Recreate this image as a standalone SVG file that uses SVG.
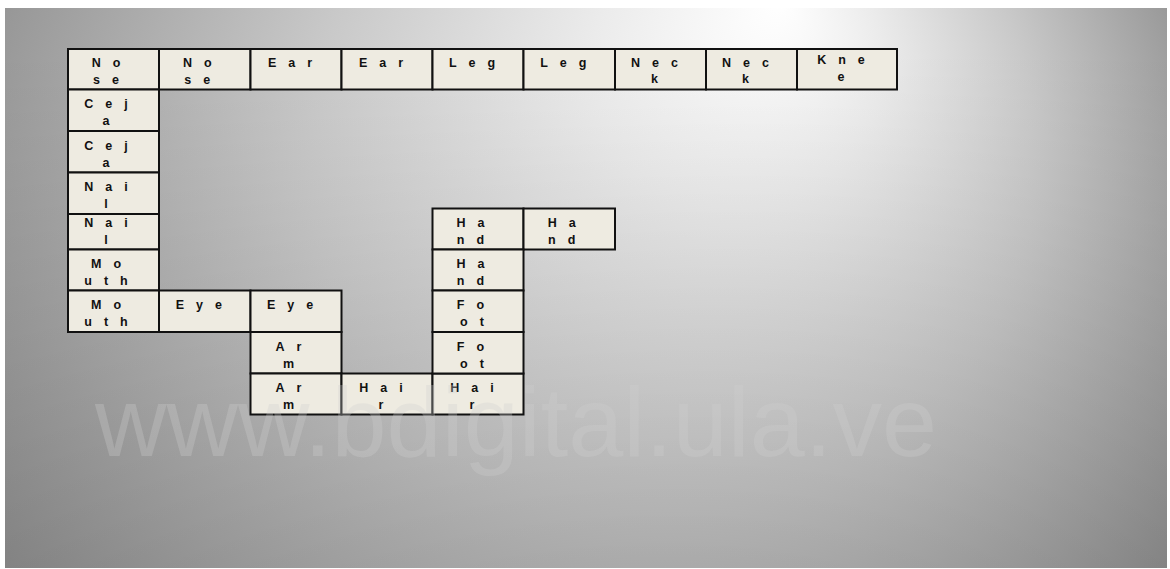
<svg xmlns="http://www.w3.org/2000/svg" width="1170" height="569" viewBox="0 0 1170 569">
<defs>
<radialGradient id="bg" gradientUnits="userSpaceOnUse" cx="585" cy="284" r="660" fx="780" fy="0">
<stop offset="0" stop-color="#ffffff"/>
<stop offset="0.22" stop-color="#ebebeb"/>
<stop offset="0.55" stop-color="#c9c9c9"/>
<stop offset="1" stop-color="#949494"/>
</radialGradient>
<linearGradient id="shade" gradientUnits="userSpaceOnUse" x1="0" y1="50" x2="0" y2="568">
<stop offset="0" stop-color="#000" stop-opacity="0"/>
<stop offset="1" stop-color="#000" stop-opacity="0.13"/>
</linearGradient>
<style>
.b{fill:#eeebe1;stroke:#111;stroke-width:2}
.t{font-family:"Liberation Sans",Arial,sans-serif;font-weight:bold;font-size:12.5px;fill:#111;letter-spacing:12px;text-anchor:middle}
.wm{font-family:"Liberation Sans",Arial,sans-serif;font-size:99px;fill:#d0d0d0;opacity:0.3}
</style>
</defs>
<rect x="0" y="0" width="1170" height="569" fill="#ffffff"/>
<rect x="5" y="8" width="1162" height="560" fill="url(#bg)"/>
<rect x="5" y="8" width="1162" height="560" fill="url(#shade)"/>

<g id="nose1"><rect class="b" x="68" y="49" width="91" height="40.5"/><text class="t" x="112" y="67">No</text><text class="t" x="112" y="84">se</text></g>
<g id="nose2"><rect class="b" x="159" y="49" width="91.5" height="40.5"/><text class="t" x="203.25" y="67">No</text><text class="t" x="203.25" y="84">se</text></g>
<g id="ear1"><rect class="b" x="250.5" y="49" width="91" height="40.5"/><text class="t" x="296" y="67">Ear</text></g>
<g id="ear2"><rect class="b" x="341.5" y="49" width="91" height="40.5"/><text class="t" x="387" y="67">Ear</text></g>
<g id="leg1"><rect class="b" x="432.5" y="49" width="91" height="40.5"/><text class="t" x="478" y="67">Leg</text></g>
<g id="leg2"><rect class="b" x="523.5" y="49" width="91.5" height="40.5"/><text class="t" x="569.25" y="67">Leg</text></g>
<g id="neck1"><rect class="b" x="615" y="49" width="91" height="40.5"/><text class="t" x="660.5" y="67">Nec</text><text class="t" x="660.5" y="83">k</text></g>
<g id="neck2"><rect class="b" x="706" y="49" width="91" height="40.5"/><text class="t" x="751.5" y="67">Nec</text><text class="t" x="751.5" y="83">k</text></g>
<g id="knee"><rect class="b" x="797" y="49" width="100" height="40.5"/><text class="t" x="847" y="64">Kne</text><text class="t" x="847" y="81">e</text></g>

<g id="ceja1"><rect class="b" x="68" y="89.5" width="91" height="41.5"/><text class="t" x="112" y="108">Cej</text><text class="t" x="112" y="125">a</text></g>
<g id="ceja2"><rect class="b" x="68" y="131" width="91" height="41.5"/><text class="t" x="112" y="149.5">Cej</text><text class="t" x="112" y="166.5">a</text></g>
<g id="nail2"><rect class="b" x="68" y="208.5" width="91" height="41"/><text class="t" x="112" y="226.5">Nai</text><text class="t" x="112" y="243.5">l</text></g>
<g id="nail1"><rect class="b" x="68" y="172.5" width="91" height="41.5"/><text class="t" x="112" y="191">Nai</text><text class="t" x="112" y="208">l</text></g>
<g id="mouth1"><rect class="b" x="68" y="249.5" width="91" height="41"/><text class="t" x="112" y="267.5">Mo</text><text class="t" x="112" y="284.5">uth</text></g>
<g id="mouth2"><rect class="b" x="68" y="290.5" width="91" height="41.5"/><text class="t" x="112" y="308.5">Mo</text><text class="t" x="112" y="325.5">uth</text></g>
<g id="eye1"><rect class="b" x="159" y="290.5" width="91.5" height="41.5"/><text class="t" x="204.75" y="308.5">Eye</text></g>
<g id="eye2"><rect class="b" x="250.5" y="290.5" width="91" height="41.5"/><text class="t" x="296" y="308.5">Eye</text></g>
<g id="arm1"><rect class="b" x="250.5" y="332" width="91" height="41.5"/><text class="t" x="294.5" y="350.5">Ar</text><text class="t" x="294.5" y="367.5">m</text></g>
<g id="arm2"><rect class="b" x="250.5" y="373.5" width="91" height="41"/><text class="t" x="294.5" y="391.5">Ar</text><text class="t" x="294.5" y="408.5">m</text></g>
<g id="hair1"><rect class="b" x="341.5" y="373.5" width="91" height="41"/><text class="t" x="387" y="391.5">Hai</text><text class="t" x="387" y="408.5">r</text></g>
<g id="hair2"><rect class="b" x="432.5" y="373.5" width="91" height="41"/><text class="t" x="478" y="391.5">Hai</text><text class="t" x="478" y="408.5">r</text></g>
<g id="hand1"><rect class="b" x="432.5" y="208.5" width="91" height="41"/><text class="t" x="476.5" y="226.5">Ha</text><text class="t" x="476.5" y="243.5">nd</text></g>
<g id="hand2"><rect class="b" x="523.5" y="208.5" width="91.5" height="41"/><text class="t" x="567.75" y="226.5">Ha</text><text class="t" x="567.75" y="243.5">nd</text></g>
<g id="hand3"><rect class="b" x="432.5" y="249.5" width="91" height="41"/><text class="t" x="476.5" y="267.5">Ha</text><text class="t" x="476.5" y="284.5">nd</text></g>
<g id="foot1"><rect class="b" x="432.5" y="290.5" width="91" height="41.5"/><text class="t" x="476.5" y="308.5">Fo</text><text class="t" x="478" y="325.5">ot</text></g>
<g id="foot2"><rect class="b" x="432.5" y="332" width="91" height="41.5"/><text class="t" x="476.5" y="350.5">Fo</text><text class="t" x="478" y="367.5">ot</text></g>

<text class="wm" x="95" y="456">www.bdigital.ula.ve</text>
</svg>
